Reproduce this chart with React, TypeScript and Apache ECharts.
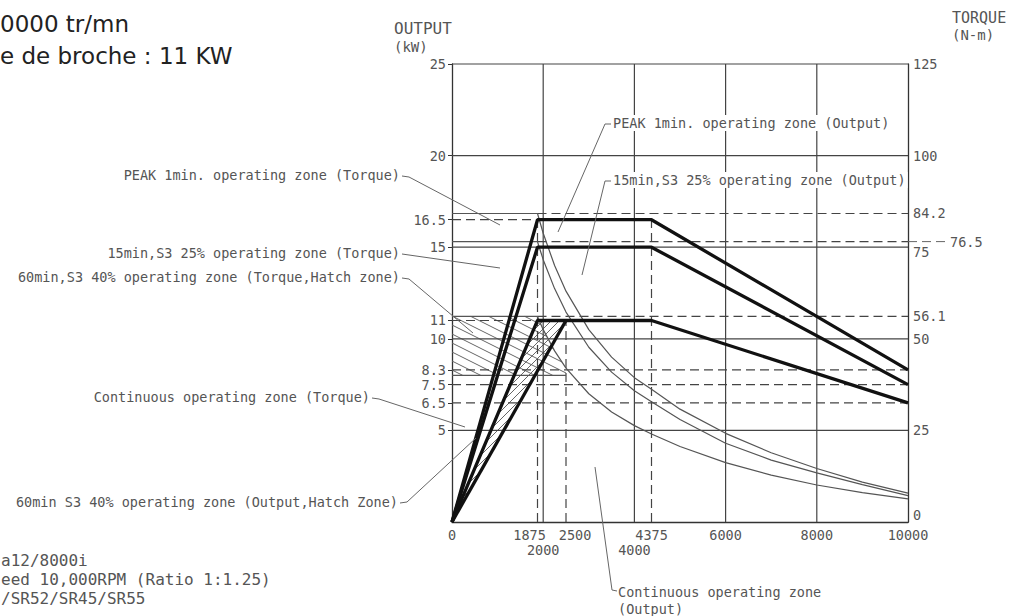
import React, { useEffect, useRef } from "react";
import * as echarts from "echarts";

// ---------------- data ----------------
const rpmTicks = [0, 1875, 2000, 2500, 4000, 4375, 6000, 8000, 10000];
const outputTicks = [5, 6.5, 7.5, 8.3, 10, 11, 15, 16.5, 20, 25];
const torqueTicks = [0, 25, 50, 56.1, 75, 84.2, 100, 125];
const outputGridValues = [5, 10, 15, 20, 25];
const rpmGridValues = [2000, 4000, 6000, 8000];

// output (kW) curves
const outputRpm = [0, 1875, 4375, 10000];
const peakOutput = [0, 16.5, 16.5, 8.3];
const s3_15Output = [0, 15, 15, 7.5];
const s3_60Output = [0, 11, 11, 6.5];
const contOutputRpm = [0, 2500];
const contOutput = [0, 11];

// torque (N-m) curves
const torqueRpm = [0, 1875, 2000, 2250, 2500, 3000, 3500, 4000, 4375, 5000, 6000, 7000, 8000, 9000, 10000];
const peakTorque = [84.2, 84.2, 78.8, 70.0, 63.0, 52.5, 45.0, 39.4, 36.2, 30.8, 24.2, 18.9, 14.6, 10.9, 7.9];
const s3_15Torque = [76.5, 76.5, 71.6, 63.7, 57.3, 47.7, 40.9, 35.8, 32.8, 28.0, 21.5, 16.9, 13.4, 10.2, 7.2];
const s3_60Torque = [56.1, 56.1, 52.5, 46.7, 42.0, 35.0, 30.0, 26.3, 24.0, 20.6, 16.2, 12.8, 10.1, 8.0, 6.3];
const contTorqueRpm = [0, 2500];
const contTorque = [40, 40];

// dashed reference lines
const outputRefsToBase = [16.5, 11]; // from 0 to base speed
const outputRefsFull = [8.3, 7.5, 6.5]; // across the whole range
const torqueRefsFromBase = [84.2, 76.5, 56.1]; // from base speed to max speed
const baseRpm = 1875;
const maxRpm = 10000;
const rpmRefs: [number, number][] = [
  [1875, 16.84],
  [2500, 11],
  [4375, 16.5],
];

// hatch zones
const torqueHatchZone = [
  [0, 56.1], [1875, 56.1], [2000, 52.5], [2250, 46.7], [2500, 42], [2500, 40], [0, 40],
];
const outputHatchZone = [
  [0, 0], [1875, 11], [2500, 11],
];

// ---------------- styles ----------------
const CAD = '"DejaVu Sans Mono", "Liberation Mono", monospace';
const TXT = "#555";
const GRID = "#444";

const zip = (xs: number[], ys: number[]) => xs.map((x, i) => [x, ys[i]]);

function lineSeries(data: number[][], yAxisIndex: number, style: any, z: number) {
  return {
    type: "line",
    data,
    yAxisIndex,
    showSymbol: false,
    symbol: "none",
    silent: true,
    clip: false,
    lineStyle: style,
    z,
  };
}

function hatchSeries(poly: number[][], yAxisIndex: number, slope: number, spacing: number) {
  return {
    type: "custom",
    coordinateSystem: "cartesian2d",
    yAxisIndex,
    silent: true,
    clip: false,
    z: 1,
    data: [poly[0]],
    renderItem: (_params: any, api: any) => {
      const pts = poly.map((p) => api.coord(p));
      const cs = pts.map((p: number[]) => p[1] - slope * p[0]);
      const cMin = Math.min(...cs);
      const cMax = Math.max(...cs);
      const children: any[] = [];
      for (let c = Math.ceil(cMin / spacing) * spacing; c <= cMax; c += spacing) {
        const hits: number[][] = [];
        for (let i = 0; i < pts.length; i++) {
          const a = pts[i];
          const b = pts[(i + 1) % pts.length];
          const fa = a[1] - slope * a[0] - c;
          const fb = b[1] - slope * b[0] - c;
          if ((fa <= 0 && fb > 0) || (fa > 0 && fb <= 0)) {
            const t = fa / (fa - fb);
            hits.push([a[0] + t * (b[0] - a[0]), a[1] + t * (b[1] - a[1])]);
          }
        }
        if (hits.length >= 2) {
          hits.sort((p, q) => p[0] - q[0]);
          const h0 = hits[0];
          const h1 = hits[hits.length - 1];
          children.push({
            type: "line",
            shape: { x1: h0[0], y1: h0[1], x2: h1[0], y2: h1[1] },
            style: { stroke: "#666", lineWidth: 1 },
          });
        }
      }
      return { type: "group", children };
    },
  };
}

function txt(text: string, x: number, y: number, align = "right", size = 13.5, bg = false) {
  return {
    type: "text",
    x,
    y,
    z: 100,
    silent: true,
    style: {
      text,
      font: `${size}px ${CAD}`,
      fill: TXT,
      align,
      verticalAlign: "middle",
      textAlign: align,
      textVerticalAlign: "middle",
      ...(bg ? { backgroundColor: "#fff", padding: [1, 2] } : {}),
    },
  };
}

function leader(points: number[][], dash = false) {
  return {
    type: "polyline",
    z: 99,
    silent: true,
    shape: { points },
    style: { stroke: "#666", lineWidth: 1, fill: null, ...(dash ? { lineDash: [9, 5] } : {}) },
  };
}

export default function App() {
  const ref = useRef<HTMLDivElement>(null);

  useEffect(() => {
    if (!ref.current) return;
    const chart = echarts.init(ref.current, null, { renderer: "svg" });

    const base = { fontFamily: CAD, fontSize: 13.5, color: TXT };
    const thin = { color: "#555", width: 1.2 };
    const thick = { color: "#111", width: 3.3 };
    const solidGrid = { color: GRID, width: 1.2 };
    const dashed = { color: GRID, width: 1.2, type: [9, 5] };

    const series: any[] = [];

    // hatch zones
    series.push(hatchSeries(torqueHatchZone, 1, 0.5, 9));
    series.push(hatchSeries(outputHatchZone, 0, -1.0, 8));

    // solid grid
    outputGridValues.forEach((v) => series.push(lineSeries([[0, v], [maxRpm, v]], 0, solidGrid, 2)));
    rpmGridValues.forEach((v) => series.push(lineSeries([[v, 0], [v, 25]], 0, solidGrid, 2)));

    // dashed refs
    outputRefsToBase.forEach((v) => series.push(lineSeries([[0, v], [baseRpm, v]], 0, dashed, 2)));
    outputRefsFull.forEach((v) => series.push(lineSeries([[0, v], [maxRpm, v]], 0, dashed, 2)));
    torqueRefsFromBase.forEach((v) => series.push(lineSeries([[baseRpm, v], [maxRpm, v]], 1, dashed, 2)));
    rpmRefs.forEach(([r, top]) => series.push(lineSeries([[r, 0], [r, top]], 0, dashed, 2)));

    // torque curves (thin)
    series.push(lineSeries(zip(torqueRpm, peakTorque), 1, thin, 3));
    series.push(lineSeries(zip(torqueRpm, s3_15Torque), 1, thin, 3));
    series.push(lineSeries(zip(torqueRpm, s3_60Torque), 1, thin, 3));
    series.push(lineSeries(zip(contTorqueRpm, contTorque), 1, thin, 3));

    // output curves (thick)
    series.push(lineSeries(zip(outputRpm, peakOutput), 0, thick, 5));
    series.push(lineSeries(zip(outputRpm, s3_15Output), 0, thick, 5));
    series.push(lineSeries(zip(outputRpm, s3_60Output), 0, thick, 5));
    series.push(lineSeries(zip(contOutputRpm, contOutput), 0, thick, 5));

    const graphic: any[] = [
      // top-left notes
      { type: "text", x: 0, y: 24, z: 100, style: { text: "0000 tr/mn", font: '23px "DejaVu Sans"', fill: "#222", verticalAlign: "middle", textVerticalAlign: "middle" } },
      { type: "text", x: 0, y: 56, z: 100, style: { text: "e de broche : 11 KW", font: '23px "DejaVu Sans"', fill: "#222", verticalAlign: "middle", textVerticalAlign: "middle" } },
      // bottom-left notes
      txt("a12/8000i", 1, 560, "left", 16),
      txt("eed 10,000RPM (Ratio 1:1.25)", 1, 579, "left", 16),
      txt("/SR52/SR45/SR55", 1, 598, "left", 16),
      // axis names
      txt("OUTPUT", 394, 28, "left", 16),
      txt("(kW)", 394, 47, "left", 14),
      txt("TORQUE", 952, 18, "left", 15),
      txt("(N-m)", 952, 35, "left", 14),
      // right extra tick 76.5
      leader([[908, 241.6], [947, 241.6]], true),
      txt("76.5", 950, 242, "left"),
      // left annotations
      txt("PEAK 1min. operating zone (Torque)", 400, 175),
      leader([[402, 176], [409, 177], [500, 225]]),
      txt("15min,S3 25% operating zone (Torque)", 400, 253),
      leader([[402, 254], [409, 255], [500, 268]]),
      txt("60min,S3 40% operating zone (Torque,Hatch zone)", 400, 277),
      leader([[402, 278], [409, 279], [473, 333]]),
      txt("Continuous operating zone (Torque)", 370, 397),
      leader([[372, 398], [379, 399], [465, 427]]),
      txt("60min S3 40% operating zone (Output,Hatch Zone)", 398, 502),
      leader([[400, 503], [407, 502], [476, 438]]),
      // top annotations
      txt("PEAK 1min. operating zone (Output)", 611, 123, "left", 13.5, true),
      leader([[611, 124], [605, 124], [558, 232]]),
      txt("15min,S3 25% operating zone (Output)", 611, 180, "left", 13.5, true),
      leader([[611, 181], [605, 181], [582, 275]]),
      // bottom annotation
      txt("Continuous operating zone", 618, 592, "left"),
      txt("(Output)", 618, 609, "left"),
      leader([[617, 591], [612, 590], [595, 467]]),
    ];

    chart.setOption({
      animation: false,
      backgroundColor: "#fff",
      grid: { left: 452, right: 105, top: 64, bottom: 94 },
      xAxis: {
        type: "value",
        min: 0,
        max: maxRpm,
        axisLine: { show: true, onZero: false, lineStyle: { color: "#333", width: 1.3 } },
        axisTick: { show: false },
        splitLine: { show: false },
        axisLabel: {
          customValues: rpmTicks,
          margin: 6,
          ...base,
          formatter: (v: number) =>
            v === 1875 ? `{l|${v}}` : v === 2500 ? `{r|${v}}` : v === 2000 || v === 4000 ? `{d|${v}}` : `{n|${v}}`,
          rich: {
            n: { ...base },
            l: { ...base, padding: [0, 16, 0, 0] },
            r: { ...base, padding: [0, 0, 0, 18] },
            d: { ...base, padding: [15, 0, 0, 0] },
          },
        },
      },
      yAxis: [
        {
          type: "value",
          min: 0,
          max: 25,
          position: "left",
          axisLine: { show: true, lineStyle: { color: "#333", width: 1.3 } },
          axisTick: { show: true, customValues: outputTicks, length: 4, lineStyle: { color: "#333" } },
          splitLine: { show: false },
          axisLabel: { customValues: outputTicks, margin: 6, ...base, formatter: (v: number) => String(v) },
        },
        {
          type: "value",
          min: 0,
          max: 125,
          position: "right",
          axisLine: { show: true, lineStyle: { color: "#333", width: 1.3 } },
          axisTick: { show: false },
          splitLine: { show: false },
          axisLabel: {
            customValues: torqueTicks,
            margin: 5,
            ...base,
            formatter: (v: number) => (v === 75 ? `{d|75}` : v === 0 ? `{u|0}` : `{n|${v}}`),
            rich: {
              n: { ...base },
              d: { ...base, padding: [10, 0, 0, 0] },
              u: { ...base, padding: [0, 0, 14, 0] },
            },
          },
        },
      ],
      series,
      graphic,
    });

    return () => chart.dispose();
  }, []);

  return (
    <div
      ref={ref}
      style={{ position: "fixed", left: 0, top: 0, width: 1013, height: 616, background: "#fff" }}
    />
  );
}
